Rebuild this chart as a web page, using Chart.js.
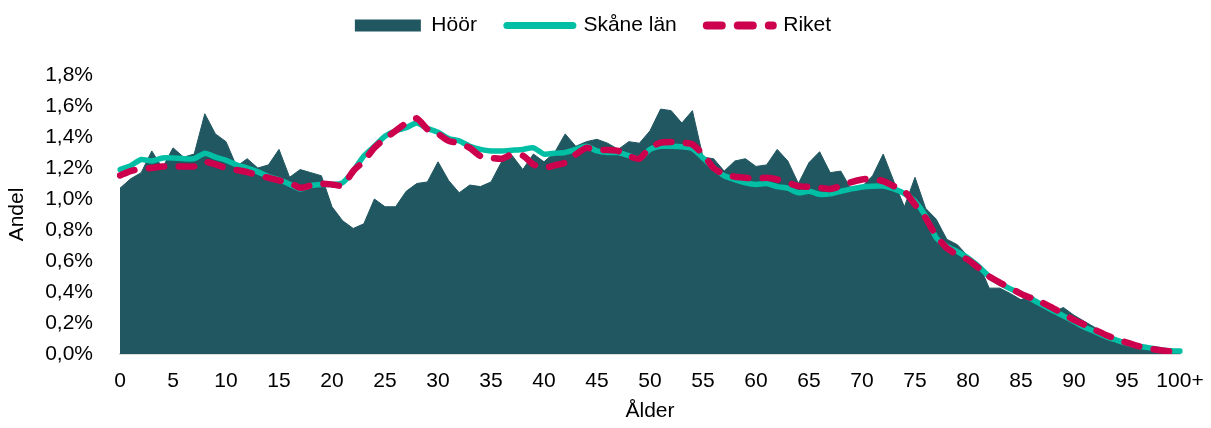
<!DOCTYPE html>
<html lang="sv">
<head>
<meta charset="utf-8">
<script src="https://cdn.jsdelivr.net/npm/chart.js@4.4.1/dist/chart.umd.min.js"></script>
<style>
  html, body { margin: 0; padding: 0; background: #fff; }
  #wrap { width: 1211px; height: 428px; position: relative; }
</style>
</head>
<body>
<div id="wrap"><canvas id="ageChart"></canvas></div>
<script>
// Åldersfördelning, andel av befolkningen per ettårsklass (%)
const ageLabels = [];
for (let a = 0; a < 100; a++) ageLabels.push(String(a));
ageLabels.push('100+');

const hoor = [
  1.07, 1.13, 1.17, 1.31, 1.20, 1.33, 1.27, 1.29, 1.55, 1.42,
  1.37, 1.21, 1.26, 1.20, 1.22, 1.32, 1.14, 1.19, 1.17, 1.15,
  0.95, 0.86, 0.81, 0.84, 1.00, 0.95, 0.95, 1.05, 1.10, 1.11,
  1.24, 1.12, 1.04, 1.09, 1.08, 1.11, 1.24, 1.28, 1.19, 1.29,
  1.24, 1.30, 1.42, 1.34, 1.37, 1.385, 1.36, 1.32, 1.37, 1.36,
  1.44, 1.58, 1.57, 1.49, 1.57, 1.27, 1.26, 1.18, 1.245, 1.26,
  1.21, 1.22, 1.32, 1.245, 1.10, 1.235, 1.305, 1.17, 1.18, 1.06,
  1.08, 1.15, 1.29, 1.115, 0.95, 1.14, 0.94, 0.87, 0.74, 0.705,
  0.63, 0.585, 0.425, 0.425, 0.39, 0.35, 0.38, 0.31, 0.27, 0.30,
  0.25, 0.21, 0.17, 0.13, 0.10, 0.08, 0.06, 0.045, 0.03, 0.02,
  0.015
];

const skane = [
  1.19, 1.215, 1.255, 1.245, 1.265, 1.265, 1.26, 1.26, 1.295, 1.27,
  1.25, 1.22, 1.20, 1.175, 1.145, 1.125, 1.095, 1.065, 1.087, 1.094,
  1.094, 1.105, 1.18, 1.277, 1.34, 1.405, 1.44, 1.46, 1.49, 1.455,
  1.43, 1.39, 1.375, 1.34, 1.32, 1.31, 1.31, 1.315, 1.32, 1.33,
  1.29, 1.295, 1.30, 1.32, 1.34, 1.31, 1.30, 1.30, 1.28, 1.26,
  1.32, 1.34, 1.34, 1.337, 1.325, 1.265, 1.20, 1.15, 1.125, 1.105,
  1.094, 1.10, 1.08, 1.07, 1.04, 1.05, 1.03, 1.033, 1.05, 1.065,
  1.078, 1.083, 1.083, 1.065, 1.035, 0.985, 0.89, 0.75, 0.695, 0.66,
  0.62, 0.565, 0.50, 0.457, 0.42, 0.39, 0.354, 0.317, 0.28, 0.246,
  0.21, 0.173, 0.144, 0.112, 0.09, 0.069, 0.052, 0.041, 0.03, 0.021,
  0.019
];

const riket = [
  1.152, 1.18, 1.195, 1.20, 1.21, 1.21, 1.21, 1.21, 1.24, 1.223,
  1.20, 1.187, 1.174, 1.152, 1.137, 1.12, 1.105, 1.072, 1.087, 1.098,
  1.094, 1.087, 1.18, 1.245, 1.33, 1.39, 1.44, 1.49, 1.52, 1.45,
  1.42, 1.375, 1.36, 1.33, 1.277, 1.265, 1.26, 1.288, 1.28, 1.223,
  1.20, 1.217, 1.234, 1.288, 1.33, 1.316, 1.316, 1.31, 1.277, 1.26,
  1.33, 1.364, 1.368, 1.364, 1.353, 1.288, 1.20, 1.158, 1.144, 1.137,
  1.13, 1.137, 1.126, 1.105, 1.083, 1.078, 1.072, 1.065, 1.083, 1.109,
  1.126, 1.13, 1.115, 1.083, 1.05, 0.964, 0.878, 0.76, 0.684, 0.64,
  0.608, 0.555, 0.50, 0.461, 0.425, 0.388, 0.36, 0.332, 0.296, 0.259,
  0.22, 0.188, 0.155, 0.123, 0.097, 0.073, 0.052, 0.037, 0.026, 0.017,
  0.011
];

const seriesNames = ['Höör', 'Skåne län', 'Riket'];
const yTicks = [0, 0.2, 0.4, 0.6, 0.8, 1.0, 1.2, 1.4, 1.6, 1.8];

const COL_HOOR = '#215761';
const COL_SKANE = '#00BFA5';
const COL_RIKET = '#CC004C';
const FONT = { family: "'Liberation Sans', Arial, sans-serif", size: 21 };

// legend-blocket högre (plotytan börjar lägre) och lite förskjutet åt höger
const legendSpacer = {
  id: 'legendSpacer',
  beforeInit(chart) {
    const origFit = chart.legend.fit;
    chart.legend.fit = function () {
      origFit.call(this);
      this.height += 29;
    };
  },
  afterLayout(chart) {
    chart.legend.left += 3;
    chart.legend.right += 3;
  }
};

new Chart(document.getElementById('ageChart'), {
  type: 'line',
  data: {
    labels: ageLabels,
    datasets: [
      {
        label: seriesNames[0],
        data: hoor,
        fill: 'origin',
        backgroundColor: COL_HOOR,
        borderColor: COL_HOOR,
        borderWidth: 1,
        pointRadius: 0,
        tension: 0,
        order: 3
      },
      {
        label: seriesNames[1],
        data: skane,
        fill: false,
        borderColor: COL_SKANE,
        backgroundColor: COL_SKANE,
        borderWidth: 5.5,
        borderCapStyle: 'round',
        borderJoinStyle: 'round',
        pointRadius: 0,
        tension: 0.2,
        order: 2
      },
      {
        label: seriesNames[2],
        data: riket,
        fill: false,
        borderColor: COL_RIKET,
        backgroundColor: COL_RIKET,
        borderWidth: 6.5,
        borderDash: [15.5, 14.5],
        borderCapStyle: 'round',
        borderJoinStyle: 'round',
        pointRadius: 0,
        tension: 0.2,
        order: 1
      }
    ]
  },
  options: {
    responsive: true,
    maintainAspectRatio: false,
    animation: false,
    events: [],
    layout: { padding: { top: -15, right: 31, bottom: 0, left: 0 } },
    scales: {
      x: {
        offset: false,
        grid: { display: false, drawTicks: false },
        border: { display: true, color: '#D9D9D9', width: 2 },
        ticks: {
          autoSkip: false,
          maxRotation: 0,
          padding: 15,
          color: '#000',
          font: FONT,
          callback: (v, i) => (i % 5 === 0 ? ageLabels[i] : '')
        },
        title: { display: true, text: 'Ålder', color: '#000', font: FONT, padding: { top: 0, bottom: 4 } },
        afterFit: s => { s.height = 74; s.paddingLeft = 0; s.paddingRight = 0; }
      },
      y: {
        min: 0,
        max: 1.8,
        afterBuildTicks: s => { s.ticks = yTicks.map(v => ({ value: v })); },
        grid: { display: false, drawTicks: false },
        border: { display: false },
        ticks: {
          padding: 27,
          color: '#000',
          font: FONT,
          callback: v => v.toFixed(1).replace('.', ',') + '%'
        },
        title: { display: true, text: 'Andel', color: '#000', font: FONT, padding: { top: 5, bottom: 0 } },
        afterFit: s => { s.width = 120; }
      }
    },
    plugins: {
      tooltip: { enabled: false },
      legend: {
        position: 'top',
        labels: {
          color: '#000',
          font: FONT,
          padding: 30,
          usePointStyle: true,
          pointStyleWidth: 66,
          boxHeight: 12,
          generateLabels: chart => chart.data.datasets.map((ds, i) => {
            const isArea = i === 0;
            return {
              text: ds.label,
              datasetIndex: i,
              hidden: false,
              fontColor: '#000',
              pointStyle: isArea ? 'rect' : 'line',
              fillStyle: ds.backgroundColor,
              strokeStyle: ds.borderColor,
              lineWidth: isArea ? 0 : (i === 1 ? 7 : 8),
              lineCap: 'round',
              lineDash: i === 2 ? [15, 16] : [],
              lineDashOffset: 0
            };
          })
        }
      }
    }
  },
  plugins: [legendSpacer]
});
</script>
</body>
</html>
